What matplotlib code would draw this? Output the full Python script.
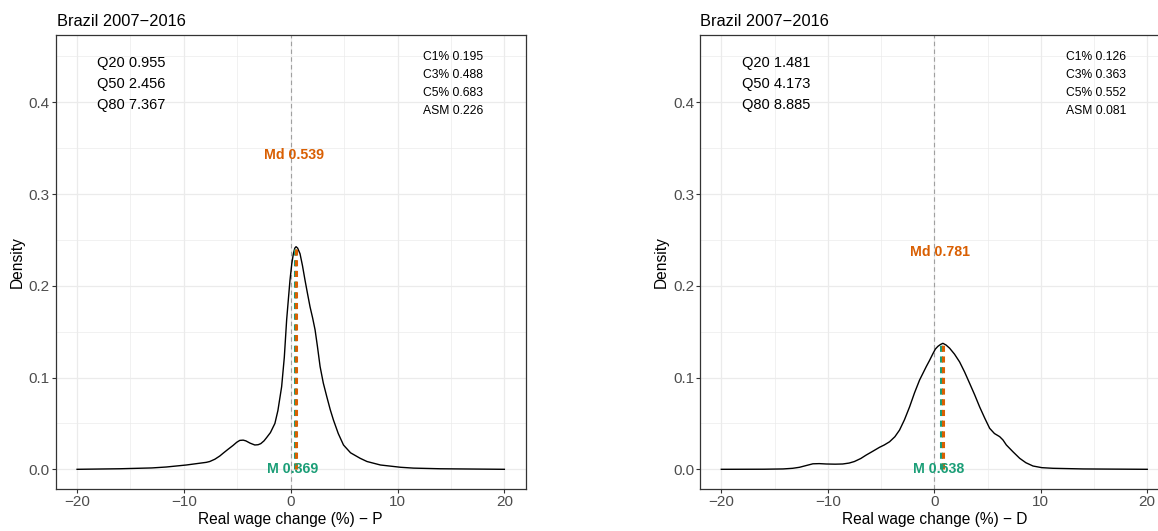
import matplotlib
matplotlib.use("Agg")
import matplotlib.pyplot as plt

plt.rcParams['font.family'] = ['Liberation Sans', 'DejaVu Sans']

# density curve, P panel
p_x = [-20, -16, -13, -11.66, -9.77, -7.9, -7.58, -7.1, -6.64, -6.33, -5.9, -5.4, -5.05, -4.77,
       -4.45, -4.2, -3.8, -3.36, -3.05, -2.8, -2.5, -2.26, -1.9, -1.48, -1.2, -0.85, -0.6,
       -0.38, -0.2, -0.07, 0.1, 0.25, 0.38, 0.5, 0.65, 0.87, 1.1, 1.34, 1.58, 1.81,
       2.05, 2.28, 2.5, 2.75, 3.05, 3.38, 3.7, 4.0, 4.45, 4.94, 5.6, 6.5, 7.14, 8.4,
       10.3, 11.5, 14, 17, 20]
p_y = [0.0, 0.0006, 0.0015, 0.0025, 0.0047, 0.0076, 0.0085, 0.011, 0.0145, 0.0175, 0.0215, 0.026,
       0.0295, 0.0315, 0.0318, 0.031, 0.0285, 0.0265, 0.0268, 0.028, 0.031, 0.0345, 0.040,
       0.050, 0.064, 0.090, 0.122, 0.163, 0.188, 0.206, 0.224, 0.235, 0.241, 0.2426, 0.241,
       0.235, 0.222, 0.206, 0.191, 0.177, 0.165, 0.152, 0.134, 0.112, 0.094, 0.079, 0.065,
       0.0537, 0.039, 0.0265, 0.018, 0.012, 0.0085, 0.0047, 0.0022, 0.0013, 0.0006, 0.0003, 0.0]

# density curve, D panel
d_x = [-20, -16, -14.2, -13.3, -12.66, -12.0, -11.4, -10.8, -10.15, -9.3, -8.6, -8.0, -7.5,
       -6.9, -6.4, -5.8, -5.14, -4.7, -4.2, -3.7, -3.26, -2.8, -2.32, -1.85, -1.38, -1.05,
       -0.75, -0.45, -0.13, 0.1, 0.34, 0.58, 0.81, 1.1, 1.44, 1.9, 2.38, 2.85, 3.32, 3.8,
       4.26, 4.73, 5.2, 5.65, 6.14, 6.45, 6.77, 7.4, 8.02, 8.6, 9.27, 10.1, 11.15, 14, 17, 20]
d_y = [0.0, 0.0001, 0.0004, 0.0011, 0.0022, 0.0042, 0.006, 0.0062, 0.0058, 0.0056, 0.0058, 0.0068,
       0.0085, 0.0118, 0.0155, 0.0195, 0.024, 0.0265, 0.030, 0.0355, 0.0428, 0.054, 0.068,
       0.0835, 0.0973, 0.105, 0.112, 0.1185, 0.126, 0.131, 0.134, 0.136, 0.1373, 0.1355,
       0.132, 0.1255, 0.117, 0.106, 0.0937, 0.081, 0.068, 0.056, 0.0447, 0.039, 0.0356,
       0.032, 0.0265, 0.019, 0.012, 0.0072, 0.0036, 0.0018, 0.0011, 0.0004, 0.0002, 0.0]

panels = ["P", "D"]
means = [0.369, 0.638]
medians = [0.539, 0.781]
peak_dens = [0.2426, 0.1373]
md_label_y = [0.3426, 0.2365]
quantiles = [[0.955, 2.456, 7.367], [1.481, 4.173, 8.885]]
conc = [[0.195, 0.488, 0.683, 0.226], [0.126, 0.363, 0.552, 0.081]]
q_names = ["Q20", "Q50", "Q80"]
c_names = ["C1%", "C3%", "C5%", "ASM"]

green = "#1B9E77"
orange = "#D95F02"
grid_c = "#EBEBEB"
dark = "#333333"

fig = plt.figure(figsize=(11.58, 5.31), dpi=100)
ax_left = fig.add_axes([0.0481, 0.0785, 0.4059, 0.8556])
ax_right = fig.add_axes([0.6045, 0.0785, 0.4046, 0.8556])

curves = [(p_x, p_y), (d_x, d_y)]
for i, ax in enumerate([ax_left, ax_right]):
    xs, ys = curves[i]
    ax.set_xlim(-22, 22)
    ax.set_ylim(-0.0218, 0.4733)
    ax.set_xticks([-20, -10, 0, 10, 20])
    ax.set_xticklabels(["\u221220", "\u221210", "0", "10", "20"])
    ax.set_yticks([0.0, 0.1, 0.2, 0.3, 0.4])
    ax.set_yticklabels(["0.0", "0.1", "0.2", "0.3", "0.4"])
    ax.set_xticks([-15, -5, 5, 15], minor=True)
    ax.set_yticks([0.05, 0.15, 0.25, 0.35, 0.45], minor=True)
    ax.tick_params(which="minor", length=0)
    ax.tick_params(which="major", length=2.75, width=0.8, color=dark,
                   labelsize=11, labelcolor="#4D4D4D", pad=1.5)
    ax.grid(which="major", color=grid_c, linewidth=0.9)
    ax.grid(which="minor", color=grid_c, linewidth=0.5)
    ax.set_axisbelow(True)
    for s in ax.spines.values():
        s.set_color(dark)
        s.set_linewidth(0.9)

    ax.axvline(0, color="#A0A0A0", linestyle=(0, (4, 3)), linewidth=0.8, zorder=1)
    ax.plot(xs, ys, color="black", linewidth=1.0, zorder=3)

    ax.plot([means[i], means[i]], [0, peak_dens[i]], color=green, linewidth=2.2,
            linestyle=(0, (2, 1.5)), zorder=4)
    ax.plot([medians[i], medians[i]], [0, peak_dens[i]], color=orange, linewidth=2.2,
            linestyle=(0, (2, 1.5)), zorder=5)

    ax.text(medians[i] - 0.2, md_label_y[i], "Md %.3f" % medians[i], color=orange,
            fontsize=10.2, fontweight="bold", ha="center", va="center", zorder=6)
    ax.text(means[i] - 0.2, 0.0, "M %.3f" % means[i], color=green,
            fontsize=10.2, fontweight="bold", ha="center", va="center", zorder=6)

    for k, name in enumerate(q_names):
        ax.text(-18.1, 0.4425 - k * 0.0229, "%s %.3f" % (name, quantiles[i][k]),
                fontsize=10.5, ha="left", va="center", color="black")
    for k, name in enumerate(c_names):
        ax.text(12.4, 0.4497 - k * 0.0198, "%s %.3f" % (name, conc[i][k]),
                fontsize=8.7, ha="left", va="center", color="black")

    ax.set_xlabel("Real wage change (%) \u2212 " + panels[i], fontsize=11.2, labelpad=2)
    ax.set_ylabel("Density", fontsize=11.2, labelpad=3)

fig.text(56.7 / 1158, 1 - 26 / 531, "Brazil 2007\u22122016", fontsize=11.8, va="baseline", ha="left")
fig.text(700.5 / 1158, 1 - 26 / 531, "Brazil 2007\u22122016", fontsize=11.8, va="baseline", ha="left")

fig.savefig("out.png", dpi=100)
